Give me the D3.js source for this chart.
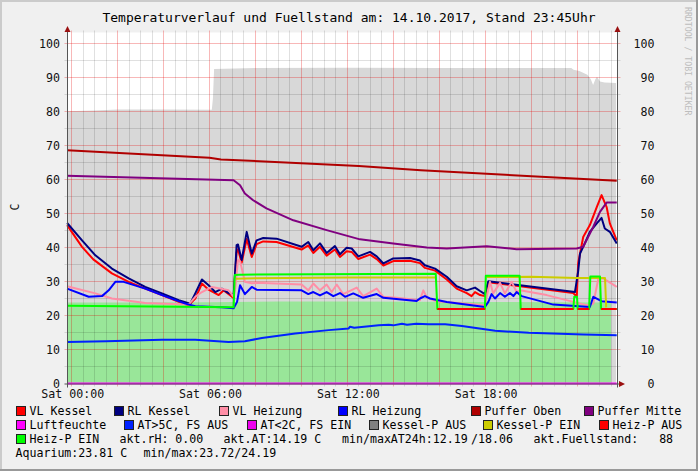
<!DOCTYPE html>
<html><head><meta charset="utf-8">
<script src="https://cdn.jsdelivr.net/npm/d3@7"></script>
<style>
body{margin:0;background:#f0f0f0}
svg{display:block}
text{font-family:"DejaVu Sans Mono",monospace;white-space:pre}
</style>
</head><body>
<svg id="c" width="698" height="471"></svg>
<script>
// ---------- DATA (hour of day, value) ----------
const fuellstand = [[-0.2,80.1],[1,80.3],[2,80.6],[4,80.6],[6.1,80.5],[6.15,84],[6.2,92.5],[8,92.8],[12,92.9],[16,92.8],[21.75,92.8],[21.85,92.3],[22.1,91.9],[22.45,90.8],[22.6,89.5],[22.7,87.8],[22.8,89.5],[22.87,90.2],[23.0,88.8],[23.2,88.5],[23.7,88.4]];
const aquarium = [[-0.2,23.8],[3,23.8],[6,23.9],[9,24.1],[12,24.1],[18,24.0],[21,23.9],[23.48,23.8]];
const vlKessel = [[-0.2,46.6],[0.45,40.2],[0.94,36.5],[1.75,32.4],[2.48,29.9],[3.2,27.9],[3.93,26],[4.66,24],[5.09,23],[5.38,25],[5.67,29.4],[5.96,27.6],[6.4,26],[6.62,27.4],[6.98,25.5],[7.05,25.2],[7.12,33],[7.18,38.5],[7.24,39.5],[7.4,35.5],[7.62,42.5],[7.84,37.2],[8.05,41],[8.34,41.8],[8.92,41.6],[10.01,39.4],[10.3,40.6],[10.52,38.4],[10.81,40.2],[11.1,37.6],[11.46,39.4],[11.68,37.2],[11.97,38.9],[12.19,38.7],[12.48,36.6],[12.99,37.9],[13.28,36.6],[13.57,34.7],[14.0,36.0],[14.73,36.1],[15.16,35.4],[15.38,34.0],[15.82,33.2],[16.33,30.6],[16.76,27.9],[17.2,26.6],[17.41,25.7],[17.56,26.9],[17.78,26.0],[17.99,25.7],[18.14,29.8],[19.52,28.6],[21.84,26.6],[21.99,25.5],[22.05,35.3],[22.27,43.1],[22.56,46.6],[22.86,51.9],[23.07,55.4],[23.29,51.9],[23.43,47.1],[23.73,42.1]];
const rlKessel = [[-0.2,47.2],[0.45,42.1],[1.03,37.7],[1.75,33.8],[2.48,30.9],[3.2,28.4],[3.93,26.5],[4.66,24.5],[5.16,23.5],[5.38,26.5],[5.67,30.6],[5.96,28.9],[6.25,26.9],[6.54,27.9],[6.83,26.6],[7.05,26.0],[7.12,33.3],[7.18,40.7],[7.24,40.9],[7.4,36.3],[7.62,44.6],[7.84,38.2],[8.05,42.1],[8.34,42.8],[8.92,42.6],[10.01,40.2],[10.3,41.6],[10.52,39.2],[10.81,41.2],[11.1,38.4],[11.46,40.4],[11.68,38.0],[11.97,39.9],[12.19,39.7],[12.48,37.4],[12.99,38.7],[13.28,37.4],[13.57,35.3],[14.0,36.8],[14.73,36.9],[15.16,36.2],[15.38,34.8],[15.82,33.8],[16.33,31.4],[16.76,28.6],[17.2,27.4],[17.56,28.2],[17.78,27.2],[17.99,26.3],[18.14,30.1],[19.52,28.9],[21.91,26.9],[22.05,33],[22.13,38.2],[22.27,40.2],[22.56,44.6],[22.86,47.1],[23.07,48.7],[23.21,45.6],[23.43,44.6],[23.73,41.2]];
const vlHeizung = [[-0.2,28.6],[1.03,26.5],[1.75,25],[3.2,23.7],[5.09,23.2],[5.38,25.5],[5.67,26.9],[6.11,28.4],[6.83,27.4],[7.05,25.5],[7.12,28],[7.24,36.3],[7.33,36],[7.54,29.9],[7.84,29.5],[8.05,29.6],[10.01,29.1],[10.3,27.4],[10.52,29.4],[10.81,27.4],[11.1,29.1],[11.32,26.9],[11.54,29.1],[11.82,26.3],[12.41,28.2],[12.69,25.7],[13.28,27.9],[13.57,25.5],[14.15,25.2],[15.16,24.5],[15.31,27.4],[15.46,25.3],[15.89,24.2],[17.99,23.0],[18.21,29.9],[18.35,26.5],[18.65,29.6],[18.86,26.5],[19.16,29.9],[19.37,26.9],[19.52,27.4],[20.68,26],[21.84,24],[22.42,23],[22.71,23.5],[22.93,30.9],[23.14,30.9],[23.73,28.4]];
const rlHeizung = [[-0.2,27.9],[0.74,25.5],[1.32,25.7],[1.61,27.4],[1.9,29.9],[2.26,29.9],[3.2,27.9],[3.93,26],[4.95,23.5],[5.38,22.7],[6.54,22.4],[7.05,22.1],[7.2,24],[7.33,28.9],[7.54,26.3],[7.84,28.4],[8.05,27.6],[10.01,27.4],[10.3,26.3],[10.52,26.9],[10.81,25.9],[11.1,26.9],[11.39,25.7],[11.68,26.6],[11.9,25.5],[12.26,26.5],[12.69,25.2],[13.28,26.3],[13.57,25.2],[15.02,24.3],[15.16,25],[15.38,25.7],[15.6,25],[16.33,24],[17.99,22.5],[18.14,24],[18.28,26.3],[18.43,25],[18.65,26.6],[18.86,25.5],[19.08,26.6],[19.23,25.7],[19.37,26.9],[19.59,25.7],[20.97,23.2],[22.56,22.5],[22.71,25.5],[23.07,24.2],[23.73,23.8]];
const pufferOben = [[-0.2,68.6],[6.0,66.4],[6.5,65.9],[12.5,64.0],[15.2,62.7],[23.73,59.6]];
const pufferMitte = [[-0.2,61.1],[7.05,59.8],[7.33,58.3],[7.54,55.9],[7.9,53.9],[8.48,51.5],[9.65,48],[11.1,45.1],[12.55,42.4],[14.0,41.2],[15.46,40],[16.33,39.7],[18.07,40.4],[19.37,39.5],[21.99,39.7],[22.27,40.2],[22.71,46.1],[23.0,50.5],[23.29,53.2],[23.73,53.2]];
const luftfeuchte = [[-0.2,0],[23.73,0]];
const aussenTemp = [[-0.2,12.2],[1.5,12.4],[3.93,12.9],[5.38,12.9],[6.83,12.2],[7.54,12.4],[8.28,13.4],[9.73,14.7],[11.19,15.7],[12.06,16.2],[12.12,16.7],[12.3,16.4],[13.37,17.1],[13.8,17.3],[14.0,17.1],[14.38,17.6],[14.6,17.3],[15.0,17.6],[15.54,17.4],[16.26,17.4],[16.99,16.9],[18.44,15.5],[19.9,14.9],[22.29,14.4],[23.73,14.2]];
const kesselPEin = [[7.15,30.8],[7.5,30.9],[12,31.2],[15.85,31.2],[15.88,31.2],null,[18.07,31.3],[20,31.4],[22.0,31.0],[23.22,31.0],[23.27,22.4]];
const heizPAus = [[15.92,21.9],[17.99,21.9],null,[19.55,21.9],[21.84,21.9],null,[22.03,21.9],[22.53,21.9],null,[23.05,21.9],[23.73,21.9]];
const heizPEin = [[-0.2,22.9],[7.05,22.4],[7.1,31.9],[7.3,32.0],[15.85,32.3],[15.92,21.9],[17.99,21.9],[18.03,31.7],[19.5,31.7],[19.55,21.9],[21.84,21.9],[21.88,25.5],[22.0,25.5],[22.03,21.9],[22.53,21.9],[22.58,31.5],[23.0,31.5],[23.05,21.9],[23.73,21.9]];

const yTicks = [0,10,20,30,40,50,60,70,80,90,100];
const xTickHours = [0,6,12,18];
const title = "Temperaturverlauf und Fuellstand am: 14.10.2017, Stand 23:45Uhr";

const legendNames = [
  ["VL Kessel","RL Kessel","VL Heizung","RL Heizung","Puffer Oben","Puffer Mitte"],
  ["Luftfeuchte","AT>5C, FS AUS","AT<2C, FS EIN","Kessel-P AUS","Kessel-P EIN","Heiz-P AUS"],
  ["Heiz-P EIN"]
];
const legendColors = [
  ["#ff0000","#000080","#ff8ea6","#0000ff","#b00000","#800080"],
  ["#ff00ff","#0022ff","#ee00ee","#808080","#cccc00","#ff0000"],
  ["#00ff00"]
];
const infoRow3 = ["akt.rH: 0.00","akt.AT:14.19 C","min/maxAT24h:12.19","/18.06","akt.Fuellstand:   88"];
const infoRow4 = ["Aquarium:23.81 C","min/max:23.72/24.19"];

// ---------- LAYOUT ----------
const svg = d3.select("#c");
const FONT = 11.6;
const x = d3.scaleLinear().domain([-0.2, 23.75]).range([67.1, 617.2]);
const y = d3.scaleLinear().domain([0, 103.2]).range([383.5, 32.62]);
const X0 = 67.5, X1 = 617.5, Y0 = 383.5, YT = 32.5;

// background + frame
svg.append("rect").attr("width",698).attr("height",471).attr("fill","#f0f0f0");
svg.append("path").attr("d","M0,1H697M1,0V471").attr("stroke","#cbcbcb").attr("stroke-width",2);
svg.append("path").attr("d","M0,470H698M697,0V471").attr("stroke","#999").attr("stroke-width",2);

// plot area
svg.append("rect").attr("x",X0).attr("y",YT).attr("width",X1-X0).attr("height",Y0-YT).attr("fill","#fff");

const g = svg.append("g");
const area = d3.area().x(d=>x(d[0])).y0(y(0)).y1(d=>y(d[1]));
g.append("path").datum(fuellstand).attr("d",area).attr("fill","#d8d8d8");
g.append("path").datum(aquarium).attr("d",area).attr("fill","#99e699");

// grid
const grid = svg.append("g");
const snap = v => Math.round(v - 0.5) + 0.5;
for (let v = 5; v <= 100; v += 5) {
  const major = v % 10 === 0;
  grid.append("line").attr("x1",X0-3).attr("x2",X1+3).attr("y1",snap(y(v))).attr("y2",snap(y(v)))
    .attr("stroke", major ? "rgba(230,0,0,0.28)" : "rgba(0,0,0,0.12)");
}
for (let h = 0; h <= 23.5; h += 0.5) {
  const major = h % 2 === 0;
  grid.append("line").attr("y1",YT-2).attr("y2",Y0+3).attr("x1",snap(x(h))).attr("x2",snap(x(h)))
    .attr("stroke", major ? "rgba(230,0,0,0.28)" : "rgba(0,0,0,0.12)");
}

// lines
const line = d3.line().defined(d=>d!==null).x(d=>x(d[0])).y(d=>y(d[1]));
const series = [
  [vlKessel,"#ff0000"],[rlKessel,"#000080"],[vlHeizung,"#ff8ea6"],[rlHeizung,"#0000ff"],
  [pufferOben,"#b00000"],[pufferMitte,"#800080"],[aussenTemp,"#0022ff"],
  [kesselPEin,"#cccc00"],[heizPEin,"#00ff00"],[heizPAus,"#ff0000"],[luftfeuchte,"#ff00ff"]
];
series.forEach(([data,col])=>{
  svg.append("path").datum(data).attr("d",line).attr("fill","none")
    .attr("stroke",col).attr("stroke-width",2).attr("stroke-linejoin","round");
});

// axes lines + arrows
const axCol = "#555";
svg.append("line").attr("x1",X0).attr("x2",X0).attr("y1",28).attr("y2",Y0+4).attr("stroke",axCol);
svg.append("line").attr("x1",X1).attr("x2",X1).attr("y1",28).attr("y2",Y0+4).attr("stroke",axCol);
svg.append("line").attr("x1",X0-3).attr("x2",621).attr("y1",Y0+0.5).attr("y2",Y0+0.5).attr("stroke",axCol);
const arrowCol = "#9a1010";
svg.append("path").attr("d",`M${X0-3},32L${X0},26L${X0+3},32Z`).attr("fill",arrowCol);
svg.append("path").attr("d",`M${X1-3},32L${X1},26L${X1+3},32Z`).attr("fill",arrowCol);
svg.append("path").attr("d",`M619,${Y0-2.5}L625,${Y0+0.5}L619,${Y0+3.5}Z`).attr("fill",arrowCol);

// axis labels via d3 axes
const yAxL = d3.axisLeft(y).tickValues(yTicks).tickSize(0).tickPadding(7.5);
const gl = svg.append("g").attr("transform",`translate(${X0},0)`).call(yAxL);
const yAxR = d3.axisLeft(y).tickValues(yTicks).tickSize(0).tickPadding(0);
const gr = svg.append("g").attr("transform",`translate(654.5,0)`).call(yAxR);
const xAx = d3.axisBottom(x).tickValues(xTickHours).tickSize(0).tickPadding(6.5)
  .tickFormat(h=>"Sat " + String(h).padStart(2,"0") + ":00");
const gb = svg.append("g").attr("transform",`translate(0,${Y0})`).call(xAx);
[gl,gr,gb].forEach(a=>{
  a.select(".domain").remove();
  a.selectAll("text").attr("font-family","DejaVu Sans Mono, monospace").attr("font-size",FONT).attr("fill","#111");
});
gb.selectAll(".tick text").attr("dx","0.5");

// title & side texts
svg.append("text").attr("x",349).attr("y",21.5).attr("text-anchor","middle")
  .attr("font-size",13).attr("fill","#000").text(title);
svg.append("text").attr("transform","translate(18.5,207) rotate(-90)").attr("text-anchor","middle")
  .attr("font-size",FONT).attr("fill","#111").text("C");
svg.append("text").attr("transform","translate(685,7) rotate(90)").attr("text-anchor","start")
  .attr("font-size",8.2).attr("fill","#bdbdbd").text("RRDTOOL / TOBI OETIKER");

// legend
const rowY = [415, 429, 443, 457];
const boxX = [[16,114,219,338,471,584],[16,124,247,369,483,599],[16]];
legendNames.forEach((row,ri)=>{
  row.forEach((name,ci)=>{
    const bx = boxX[ri][ci];
    svg.append("rect").attr("x",bx+0.5).attr("y",rowY[ri]-8.5).attr("width",9).attr("height",9)
      .attr("fill",legendColors[ri][ci]).attr("stroke","#222").attr("stroke-width",1);
    svg.append("text").attr("x",bx+13.5).attr("y",rowY[ri]).attr("font-size",FONT).attr("fill","#000").text(name);
  });
});
const info3X = [119.5,223.5,342,471,533.5];
infoRow3.forEach((t,i)=>svg.append("text").attr("x",info3X[i]).attr("y",rowY[2]).attr("font-size",FONT).attr("fill","#000").text(t));
const info4X = [15.5,143.5];
infoRow4.forEach((t,i)=>svg.append("text").attr("x",info4X[i]).attr("y",rowY[3]).attr("font-size",FONT).attr("fill","#000").text(t));
</script>
</body></html>
